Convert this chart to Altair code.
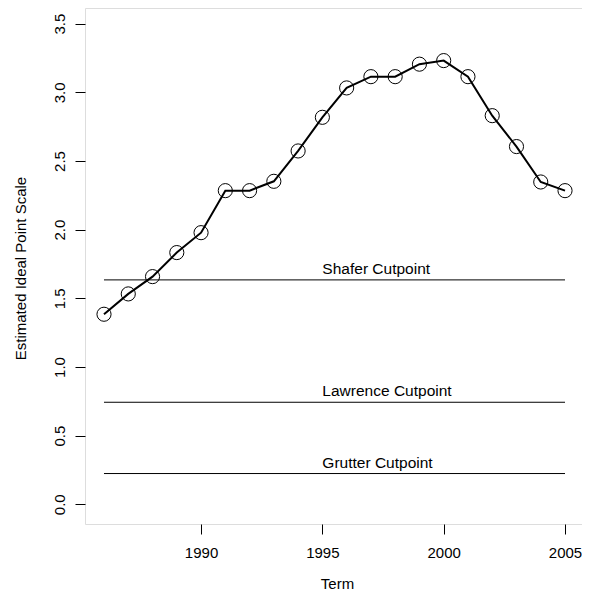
import altair as alt
import pandas as pd

years = list(range(1986, 2006))
scores = [1.384, 1.532, 1.658, 1.833, 1.978, 2.284, 2.284, 2.352, 2.573, 2.818,
          3.032, 3.114, 3.114, 3.205, 3.231, 3.114, 2.830, 2.605, 2.347, 2.284]

cut_names = ["Shafer Cutpoint", "Lawrence Cutpoint", "Grutter Cutpoint"]
cut_values = [1.634, 0.743, 0.224]
cut_start = [1986, 1986, 1986]
cut_end = [2005, 2005, 2005]
label_x = [1995, 1995, 1995]

x_ticks = [1990, 1995, 2000, 2005]
y_ticks = [0.0, 0.5, 1.0, 1.5, 2.0, 2.5, 3.0, 3.5]

df = pd.DataFrame({"Term": years, "Score": scores})
cuts = pd.DataFrame({"name": cut_names, "value": cut_values,
                     "start": cut_start, "end": cut_end, "lx": label_x})

FONT = "Liberation Sans"
W, H = 497, 516

xscale = alt.Scale(domain=[1985.217, 2005.70], nice=False, zero=False)
yscale = alt.Scale(domain=[-0.1435, 3.614], nice=False, zero=False)

xaxis = alt.Axis(values=x_ticks, format="d", grid=False, domain=False,
                 tickColor="black", tickSize=10, tickWidth=1,
                 labelFont=FONT, labelFontSize=15, labelColor="black",
                 labelBaseline="alphabetic", labelPadding=23, labelAlign="center",
                 title="Term", titleFont=FONT, titleFontSize=15, titleFontWeight="normal",
                 titleColor="black", titleX=252, titleY=64, titleBaseline="alphabetic",
                 titleAlign="center")
yaxis = alt.Axis(values=y_ticks, format=".1f", grid=False, domain=False,
                 tickColor="black", tickSize=10, tickWidth=1,
                 labelFont=FONT, labelFontSize=15, labelColor="black",
                 labelAngle=270, labelAlign="center", labelBaseline="alphabetic",
                 labelPadding=11,
                 title="Estimated Ideal Point Scale", titleFont=FONT, titleFontSize=15,
                 titleFontWeight="normal", titleColor="black", titleAngle=270,
                 titleX=-60, titleY=260, titleBaseline="alphabetic", titleAlign="center")

base = alt.Chart(df)
line = base.mark_line(color="black", strokeWidth=2).encode(
    x=alt.X("Term:Q", scale=xscale, axis=xaxis),
    y=alt.Y("Score:Q", scale=yscale, axis=yaxis),
)
pts = base.mark_point(shape="circle", size=200, filled=False, color="black",
                      strokeWidth=1, opacity=1).encode(
    x=alt.X("Term:Q", scale=xscale),
    y=alt.Y("Score:Q", scale=yscale),
)
rules = alt.Chart(cuts).mark_rule(color="black", strokeWidth=1).encode(
    x=alt.X("start:Q", scale=xscale),
    x2="end:Q",
    y=alt.Y("value:Q", scale=yscale),
)
texts = alt.Chart(cuts).mark_text(font=FONT, fontSize=15.5, align="left",
                                  baseline="middle", dy=-11, color="black").encode(
    x=alt.X("lx:Q", scale=xscale),
    y=alt.Y("value:Q", scale=yscale),
    text="name:N",
)

chart = alt.layer(rules, texts, line, pts).properties(
    width=W, height=H,
    autosize=alt.AutoSizeParams(type="none"),
    padding={"left": 77, "top": 0, "right": 0, "bottom": 70},
).configure_view(stroke="black", strokeWidth=1).configure(background="white")

chart.save("out.html", embed_options={"renderer": "svg", "actions": False})
